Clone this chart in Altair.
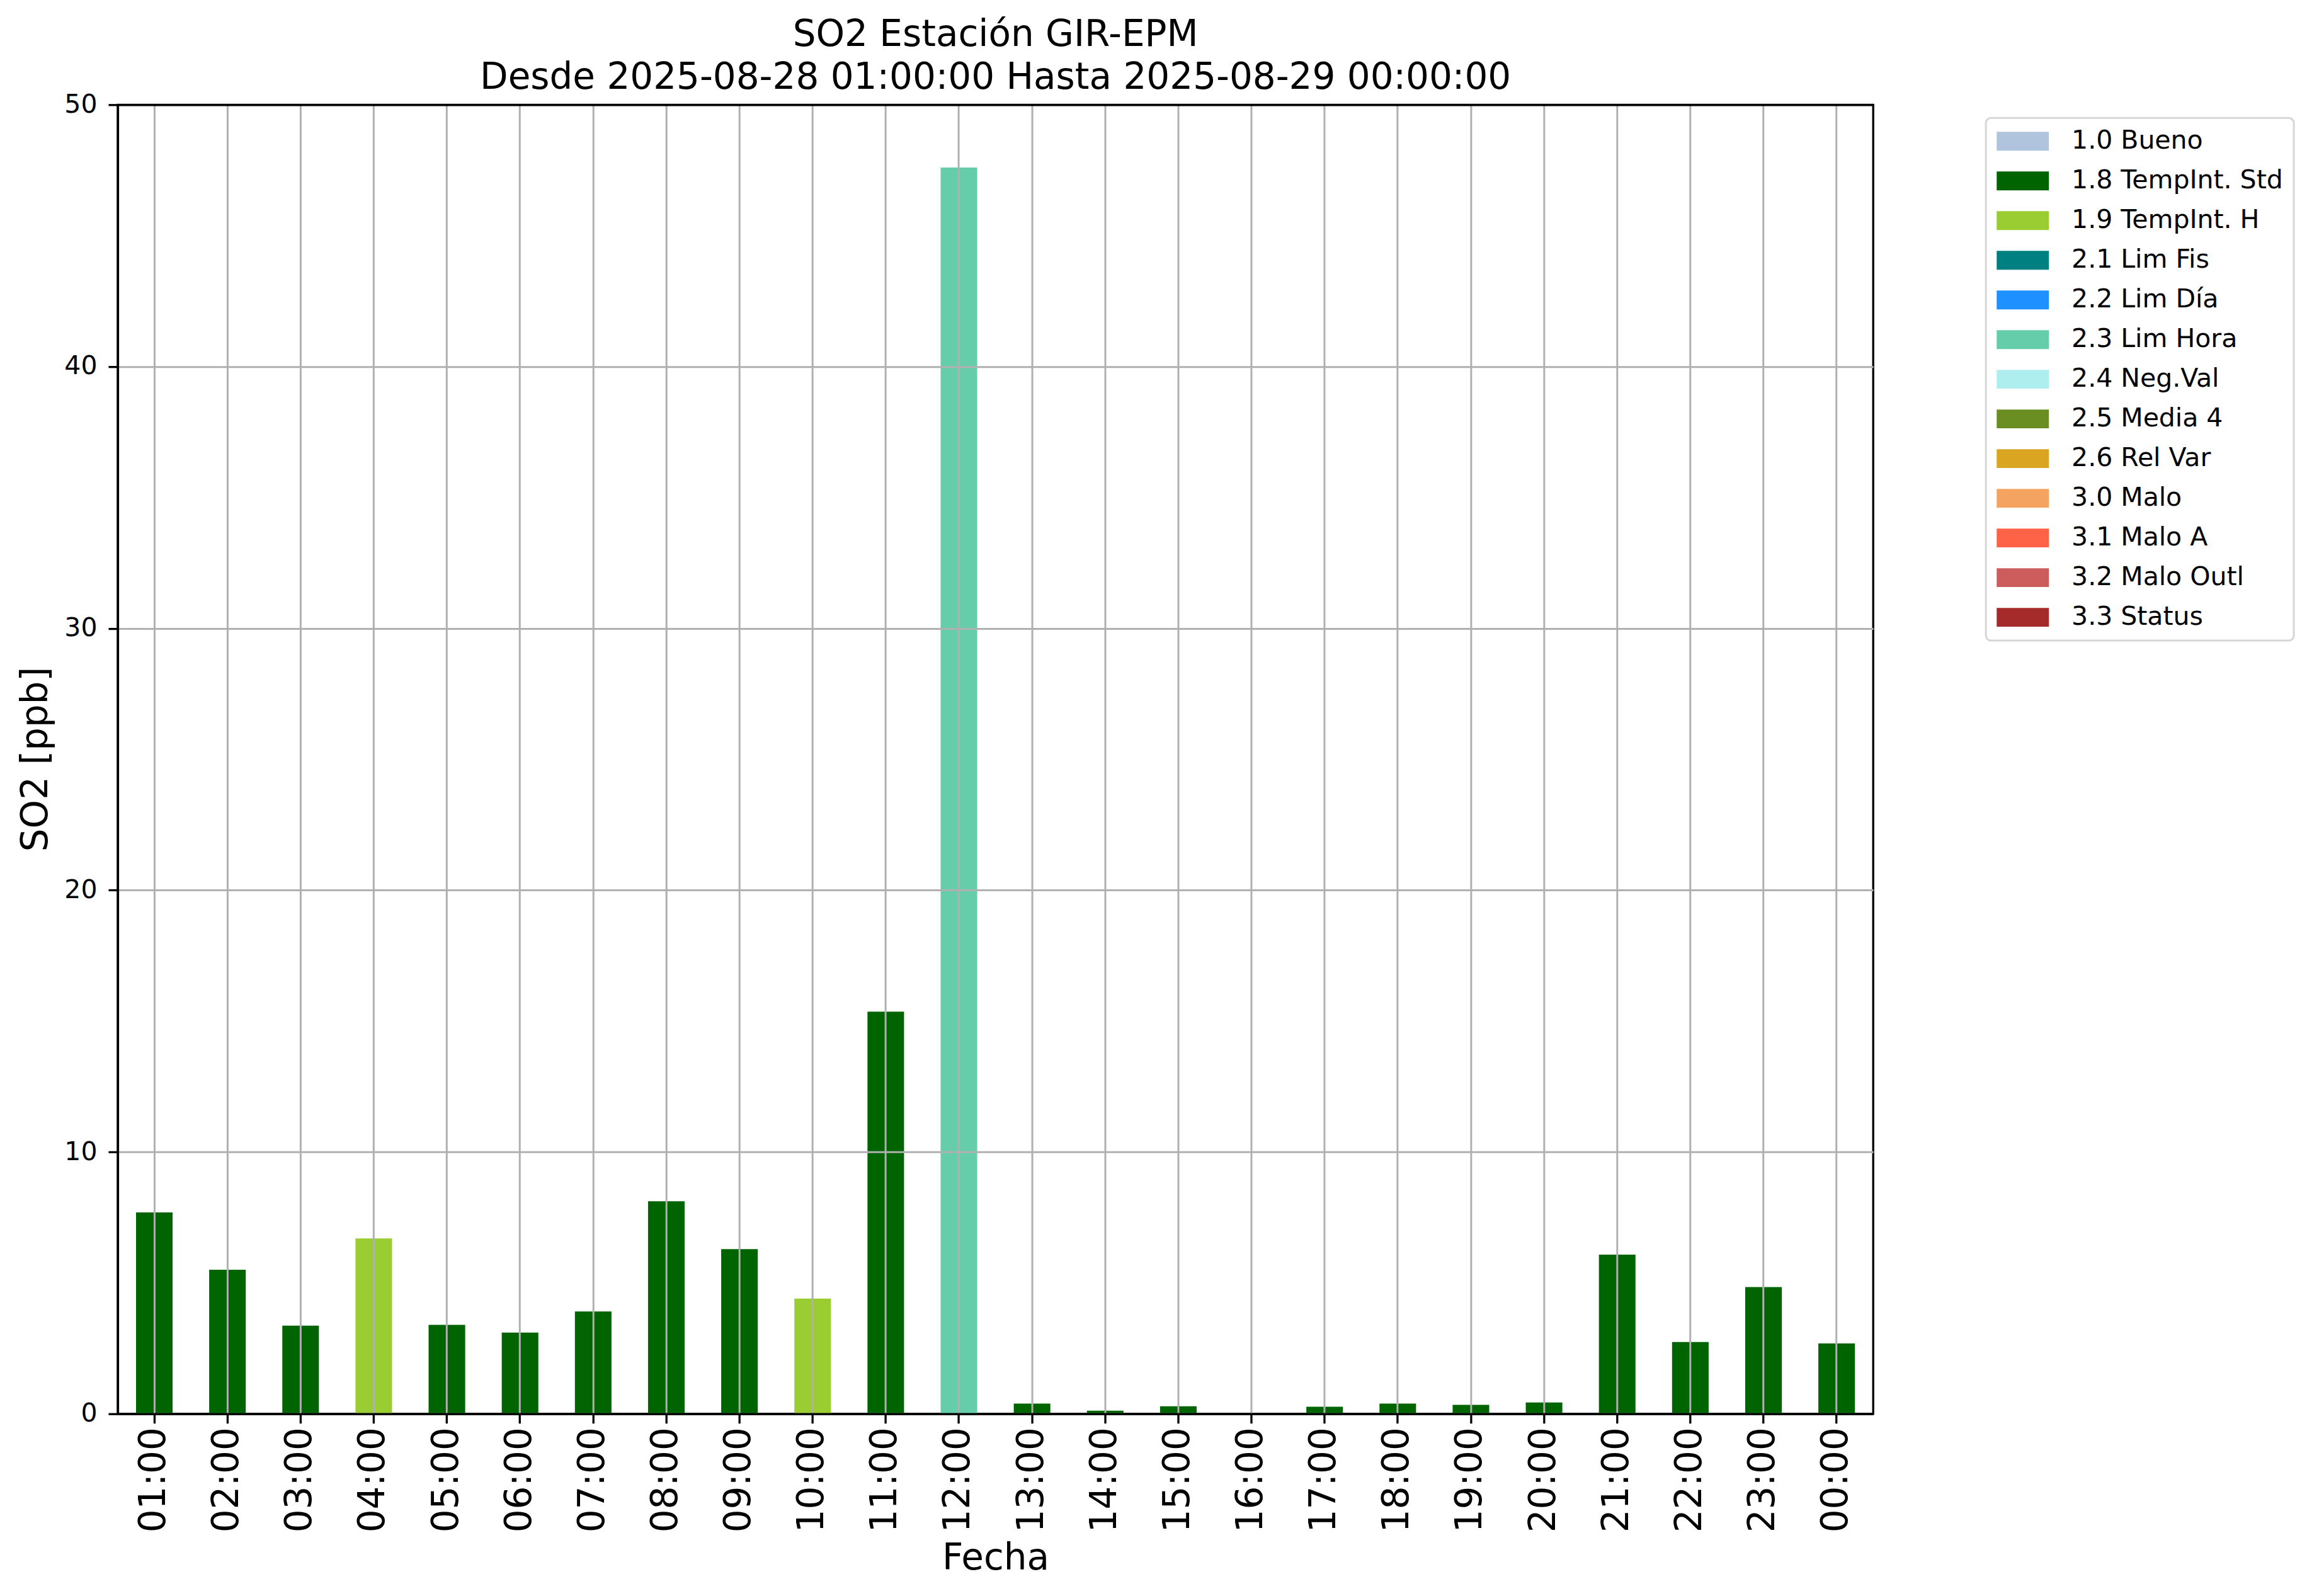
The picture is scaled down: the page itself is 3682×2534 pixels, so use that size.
import altair as alt
import pandas as pd

hours = ["01:00", "02:00", "03:00", "04:00", "05:00", "06:00", "07:00", "08:00",
         "09:00", "10:00", "11:00", "12:00", "13:00", "14:00", "15:00", "16:00",
         "17:00", "18:00", "19:00", "20:00", "21:00", "22:00", "23:00", "00:00"]
so2 = [7.69, 5.50, 3.37, 6.70, 3.40, 3.10, 3.91, 8.12, 6.29, 4.40, 15.36, 47.6,
       0.39, 0.12, 0.29, None, 0.27, 0.39, 0.34, 0.43, 6.08, 2.74, 4.84, 2.69]
flags = ["1.8 TempInt. Std", "1.8 TempInt. Std", "1.8 TempInt. Std", "1.9 TempInt. H",
         "1.8 TempInt. Std", "1.8 TempInt. Std", "1.8 TempInt. Std", "1.8 TempInt. Std",
         "1.8 TempInt. Std", "1.9 TempInt. H", "1.8 TempInt. Std", "2.3 Lim Hora",
         "1.8 TempInt. Std", "1.8 TempInt. Std", "1.8 TempInt. Std", "1.8 TempInt. Std",
         "1.8 TempInt. Std", "1.8 TempInt. Std", "1.8 TempInt. Std", "1.8 TempInt. Std",
         "1.8 TempInt. Std", "1.8 TempInt. Std", "1.8 TempInt. Std", "1.8 TempInt. Std"]

legend_labels = ["1.0 Bueno", "1.8 TempInt. Std", "1.9 TempInt. H", "2.1 Lim Fis",
                 "2.2 Lim Día", "2.3 Lim Hora", "2.4 Neg.Val", "2.5 Media 4",
                 "2.6 Rel Var", "3.0 Malo", "3.1 Malo A", "3.2 Malo Outl", "3.3 Status"]
legend_colors = ["#b0c4de", "#006400", "#9acd32", "#008080", "#1e90ff", "#66cdaa",
                 "#afeeee", "#6b8e23", "#daa520", "#f4a460", "#ff6347", "#cd5c5c",
                 "#a52a2a"]
y_ticks = [0, 10, 20, 30, 40, 50]

df = pd.DataFrame({"Fecha": hours, "SO2": so2, "flag": flags})

FONT = "DejaVu Sans"

y_grid_color = {"condition": {"test": "datum.value >= 50", "value": "black"}, "value": "#b0b0b0"}
y_grid_width = {"condition": {"test": "datum.value >= 50", "value": 3.3}, "value": 3}

chart = alt.Chart(df).mark_bar().encode(
    x=alt.X("Fecha:N", sort=None,
            scale=alt.Scale(domain=hours, paddingInner=0.5, paddingOuter=0.25),
            axis=alt.Axis(title="Fecha", labelAngle=270, labelFontSize=58,
                          labelFont=FONT, labelColor="black", labelPadding=6,
                          tickSize=15, tickWidth=3.3, tickColor="black",
                          domainColor="black", domainWidth=3.3,
                          grid=True, gridColor="#b0b0b0", gridWidth=3,
                          bandPosition=0.5, zindex=1,
                          titleFont=FONT, titleFontSize=58, titleFontWeight="normal",
                          titleColor="black", titleBaseline="alphabetic",
                          titleY=247)),
    y=alt.Y("SO2:Q", scale=alt.Scale(domain=[0, 50], nice=False),
            axis=alt.Axis(title="SO2 [ppb]", values=y_ticks, labelFontSize=41,
                          labelFont=FONT, labelColor="black", labelPadding=18,
                          tickSize=15, tickWidth=3.3, tickColor="black",
                          domainColor="black", domainWidth=3.3,
                          grid=True, gridColor=y_grid_color, gridWidth=y_grid_width,
                          zindex=1,
                          titleFont=FONT, titleFontSize=58, titleFontWeight="normal",
                          titleColor="black", titleBaseline="alphabetic",
                          titleX=-112, titleY=1039, titleAngle=270)),
    color=alt.Color("flag:N",
                    scale=alt.Scale(domain=legend_labels, range=legend_colors),
                    legend=alt.Legend(title=None, orient="none", legendX=2967, legendY=21,
                                      symbolType="M-1,-0.36H1V0.36H-1Z",
                                      symbolSize=6889, symbolStrokeWidth=0,
                                      symbolOpacity=1,
                                      clipHeight=40, rowPadding=22,
                                      labelOffset=36, labelFont=FONT, labelFontSize=41,
                                      labelColor="black", labelLimit=0,
                                      padding=17, strokeColor="#d6d6d6",
                                      fillColor="white", cornerRadius=8)),
).properties(
    width=2788,
    height=2079,
    title=alt.TitleParams(
        text=["SO2 Estación GIR-EPM", "Desde 2025-08-28 01:00:00 Hasta 2025-08-29 00:00:00"],
        font=FONT, fontSize=58, fontWeight="normal", color="black",
        anchor="middle", lineHeight=68, baseline="alphabetic", offset=23, dy=77),
    autosize=alt.AutoSizeParams(type="none"),
    padding={"left": 179, "top": 158, "right": 700, "bottom": 289},
).configure_view(
    stroke="black", strokeWidth=3.3
).configure_legend(
    strokeWidth=3
)

chart.save("out.html", embed_options={"renderer": "svg", "actions": False})
